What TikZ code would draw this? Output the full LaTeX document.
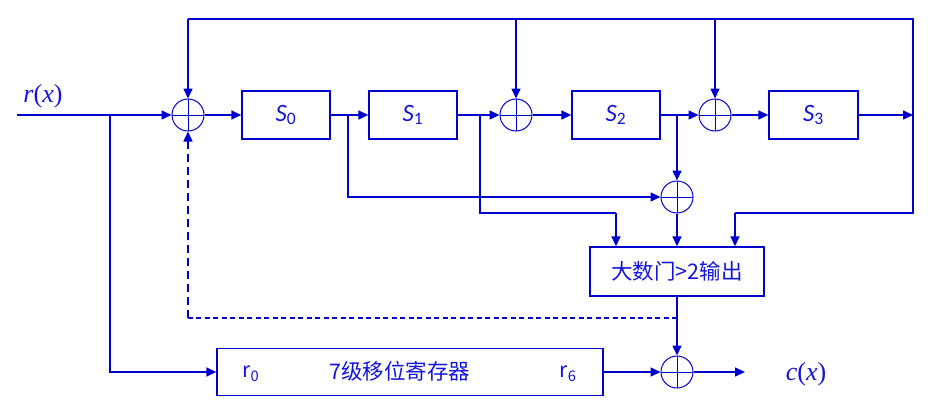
\documentclass[tikz,border=0pt]{standalone}
\usepackage{fontspec}
\setmainfont{Carlito}
\newfontfamily\cjk{Noto Sans CJK SC}
\newfontfamily\tms{Liberation Serif}
\usetikzlibrary{arrows.meta,calc}
\definecolor{dblue}{RGB}{0,0,204}
\definecolor{tblue}{RGB}{20,20,220}
\tikzset{
 conn/.style={draw=dblue, line width=1.6pt},
 arr/.style={conn,-{Triangle[length=10pt,width=9pt]}},
 blk/.style={draw=dblue, line width=1.4pt, rectangle, inner sep=0pt, text=tblue},
 xorn/.style={circle, draw=dblue, line width=1pt, minimum size=32pt, inner sep=0pt,
   path picture={\draw[dblue,line width=1pt] (path picture bounding box.north) -- (path picture bounding box.south) (path picture bounding box.west) -- (path picture bounding box.east);}},
 lbl/.style={text=tblue, inner sep=0pt},
 dshv/.style={dash pattern=on 8pt off 5pt},
 dshh/.style={dash pattern=on 5pt off 3.5pt},
 stxt/.style={font=\fontsize{25}{25}\selectfont},
}
\begin{document}
\begin{tikzpicture}[x=1pt,y=-1pt]
\useasboundingbox (0,0) rectangle (945,415);
% xor nodes
\node[xorn] (x1) at (188,115) {};
\node[xorn] (x2) at (516,115) {};
\node[xorn] (x3) at (715,115) {};
\node[xorn] (x4) at (677,197) {};
\node[xorn] (x5) at (677,372) {};
% register stages
\node[blk, stxt, minimum width=88pt, minimum height=48pt] (s0) at (286,115) {\textit{S}\textsubscript{0}};
\node[blk, stxt, minimum width=88pt, minimum height=48pt] (s1) at (413,115) {\textit{S}\textsubscript{1}};
\node[blk, stxt, minimum width=88pt, minimum height=48pt] (s2) at (616,115) {\textit{S}\textsubscript{2}};
\node[blk, stxt, minimum width=89pt, minimum height=48pt] (s3) at (813.5,115) {\textit{S}\textsubscript{3}};
% majority gate
\node[blk, minimum width=174pt, minimum height=49pt] (maj) at (677,271.5) {\cjk\fontsize{21.5}{21.5}\selectfont 大数门>2输出};
% 7-stage register
\node[blk, minimum width=386pt, minimum height=47pt] (reg) at (410,372) {};
\node[lbl] (r0) at (251,374) {\cjk\fontsize{21}{21}\selectfont r\textsubscript{0}};
\node[lbl] (rt) at (400,371) {\cjk\fontsize{21.5}{21.5}\selectfont 7级移位寄存器};
\node[lbl] (r6) at (568,374) {\cjk\fontsize{21}{21}\selectfont r\textsubscript{6}};
% labels
\node[lbl] (rx) at (43,96) {\tms\fontsize{26}{26}\selectfont\textit{r}(\textit{x})};
\node[lbl] (cx) at (806,374) {\tms\fontsize{26}{26}\selectfont\textit{c}(\textit{x})};
% coordinates
\coordinate (in) at (17,115);
\coordinate (br0) at (110,115);
\coordinate (tl) at (188,19);
\coordinate (tr) at (913,19);
\coordinate (rs) at (913,115);
\coordinate (rb) at (913,213);
\coordinate (rl) at (735,213);
\coordinate (b1) at (348,115);
\coordinate (b2) at (480,115);
\coordinate (b2c) at (616,213);
\coordinate (b3) at (677,115);
\coordinate (dj) at (677,318);
\coordinate (dl) at (188,318);
\coordinate (out) at (745,372);
% main chain
\draw[arr] (in) -- (x1);
\draw[arr] (x1) -- (s0);
\draw[arr] (s0) -- (s1);
\draw[arr] (s1) -- (x2);
\draw[arr] (x2) -- (s2);
\draw[arr] (s2) -- (x3);
\draw[arr] (x3) -- (s3);
\draw[arr] (s3) -- (rs);
% feedback from top
\draw[conn] (tl) -- (tr) -- (rb) -- (rl);
\draw[arr] (rl) -- (rl |- maj.north);
\draw[arr] (tl) -- (x1);
\draw[arr] (tl -| x2) -- (x2);
\draw[arr] (tl -| x3) -- (x3);
% taps to majority gate
\draw[arr] (b1) |- (x4);
\draw[conn] (b2) |- (b2c);
\draw[arr] (b2c) -- (b2c |- maj.north);
\draw[arr] (b3) -- (x4);
\draw[arr] (x4) -- (x4 |- maj.north);
% output
\draw[arr] (maj) -- (x5);
\draw[conn, line width=1.3pt, dshh] (dj) -- (dl);
\draw[arr, dshv] (dl) -- (x1);
\draw[arr] (br0) |- (reg);
\draw[arr] (reg) -- (x5);
\draw[arr] (x5) -- (out);
\end{tikzpicture}
\end{document}
